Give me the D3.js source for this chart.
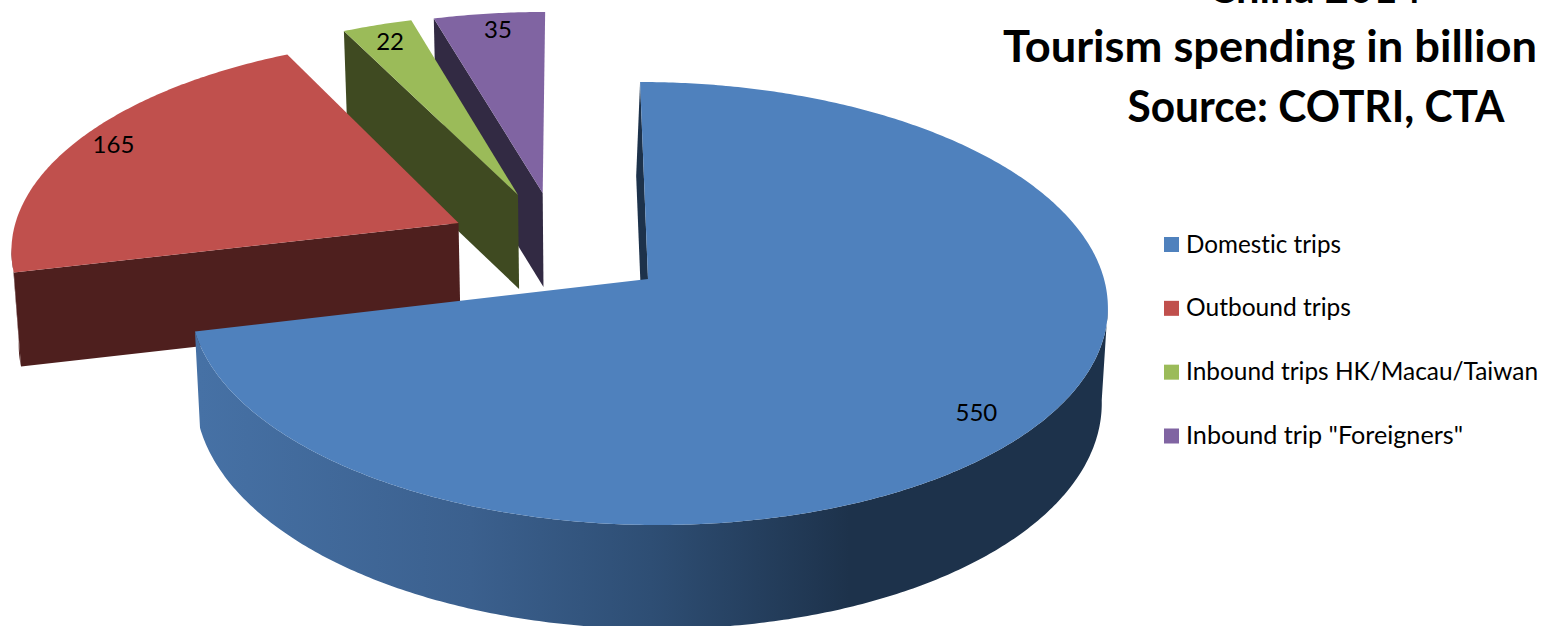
<!DOCTYPE html>
<html>
<head>
<meta charset="utf-8">
<title>China 2014 tourism spending</title>
<script src="https://cdnjs.cloudflare.com/ajax/libs/d3/7.9.0/d3.min.js"></script>
<style>
  html, body { margin: 0; padding: 0; background: #fff; overflow: hidden; }
  svg { display: block; font-family: Lato, "Open Sans", sans-serif; font-variant-ligatures: none; }
</style>
</head>
<body>
<svg id="chart" width="1542" height="626"></svg>
<script>
// Chart content
const categories = ["Domestic trips", "Outbound trips", "Inbound trips HK/Macau/Taiwan", 'Inbound trip "Foreigners"'];
const spending = [550, 165, 22, 35];
const titleLines = ["China 2014", "Tourism spending in billion", "Source: COTRI, CTA"];

// Styling per slice
const faceColors = ["#4F81BD", "#C0504D", "#9BBB59", "#8064A2"];
const wallColors = ["#1D324B", "#4E1F1E", "#3F4A21", "#322A43"];

// How far each slice is pulled out of the pie, in units of the pie radius
const explodeAcross = [0, -0.4225, -0.290, -0.2335];
const explodeDepth = [0, -0.2634, -0.401, -0.411];

// Tilted-disc camera: u runs left to right, v runs from back (-1) to front (+1)
const camera = { cx: 648, cy: 279, rx: 456, ry: 218.8, persp: 0.1106, shear: 8.8 };
const thickness = 94;

function projectTop(u, v) {
  const w = 1 - camera.persp * v;
  return [
    camera.cx + (camera.rx * u + camera.shear * v) / w,
    camera.cy + camera.ry * v / w
  ];
}

function projectBottom(u, v, nudge = 0) {
  const [x, y] = projectTop(u, v);
  const drop = thickness + 10 * Math.max(0, v);
  return [x - 0.5 - (x - camera.cx) * 0.0122 + nudge, y + drop];
}

const svg = d3.select("#chart");

// Side wall shading of the large slice, light at the left and dark toward the right
const grad = svg.append("defs").append("linearGradient")
  .attr("id", "domesticWall")
  .attr("gradientUnits", "userSpaceOnUse")
  .attr("x1", 200).attr("x2", 1102).attr("y1", 0).attr("y2", 0);
[[0, "#4671A5"], [0.3, "#3B608E"], [0.5, "#2E4E74"], [0.72, "#1D324B"], [1, "#1D324B"]]
  .forEach(([o, c]) => grad.append("stop").attr("offset", o).attr("stop-color", c));

const pie = d3.pie().sort(null).value(d => d);
const slices = pie(spending);
const line = d3.line();

const rimAngles = (a, b) => {
  const n = Math.max(8, Math.ceil((b - a) / 0.01));
  return d3.range(n + 1).map(i => a + (b - a) * i / n);
};

function drawSlice(s) {
  const i = s.index;
  const ox = explodeAcross[i], oy = explodeDepth[i];
  const onRim = a => [ox + Math.sin(a), oy - Math.cos(a)];
  const angles = rimAngles(s.startAngle, s.endAngle);
  const g = svg.append("g").attr("class", "slice");

  // Outer wall, only along the stretch of rim that faces the viewer
  const frontRim = angles.filter(a => -Math.cos(a) > camera.persp).map(onRim);
  if (frontRim.length > 1) {
    g.append("path")
      .attr("fill", i === 0 ? "url(#domesticWall)" : wallColors[i])
      .attr("d", line(frontRim.map(p => projectTop(...p))
        .concat(frontRim.slice().reverse().map(p => projectBottom(...p)))) + "Z");
  }

  // Cut wall on the clockwise-start side of the slice
  const [u, v] = onRim(s.startAngle);
  const nudge = i === 0 ? -3.5 : 0;
  g.append("path")
    .attr("fill", wallColors[i])
    .attr("d", line([
      projectTop(u, v), projectTop(ox, oy),
      projectBottom(ox, oy, nudge), projectBottom(u, v, nudge)
    ]) + "Z");

  g.append("path")
    .attr("fill", faceColors[i])
    .attr("d", line([projectTop(ox, oy)].concat(angles.map(onRim).map(p => projectTop(...p)))) + "Z");
}

// Back slices first so the nearer ones overlap them
[3, 2, 1, 0].forEach(i => drawSlice(slices[i]));

// Value labels sit along each slice's bisector, with small hand adjustments
const labelRadius = [0.87, 0.9, 0.9, 0.9];
const labelShiftX = [-8, -2, 0, 4];
const labelShiftY = [8, -4, 0, -1];
svg.append("g").selectAll("text").data(slices).join("text")
  .attr("text-anchor", "middle")
  .attr("font-size", 24)
  .attr("fill", "#000")
  .attr("transform", s => {
    const i = s.index;
    const mid = (s.startAngle + s.endAngle) / 2;
    const [x, y] = projectTop(
      explodeAcross[i] + labelRadius[i] * Math.sin(mid),
      explodeDepth[i] - labelRadius[i] * Math.cos(mid)
    );
    return `translate(${x + labelShiftX[i]},${y + 9 + labelShiftY[i]})`;
  })
  .text(s => s.value);

// Legend
const legendY = d3.scalePoint().domain(categories).range([244.5, 436]);
const legendTextWidth = [155, 165, 352, 277];
const legend = svg.append("g").selectAll("g").data(categories).join("g")
  .attr("transform", d => `translate(1164,${legendY(d)})`);
legend.append("rect")
  .attr("x", 0).attr("y", -7.5).attr("width", 15).attr("height", 15)
  .attr("fill", (d, i) => faceColors[i]);
legend.append("text")
  .attr("x", 22).attr("y", 8)
  .attr("font-size", 24.5)
  .attr("fill", "#000")
  .attr("textLength", (d, i) => legendTextWidth[i])
  .attr("lengthAdjust", "spacingAndGlyphs")
  .text(d => d);

// Title block, its first line running off the top edge
const titleX = [1315, 1270, 1316];
const titleY = [3, 62, 122];
const titleWidth = [213, 534, 377];
svg.append("g").selectAll("text").data(titleLines).join("text")
  .attr("x", (d, i) => titleX[i])
  .attr("y", (d, i) => titleY[i])
  .attr("text-anchor", "middle")
  .attr("font-size", 44)
  .attr("font-weight", 700)
  .attr("fill", "#000")
  .attr("textLength", (d, i) => titleWidth[i])
  .attr("lengthAdjust", "spacingAndGlyphs")
  .text(d => d);
</script>
</body>
</html>
